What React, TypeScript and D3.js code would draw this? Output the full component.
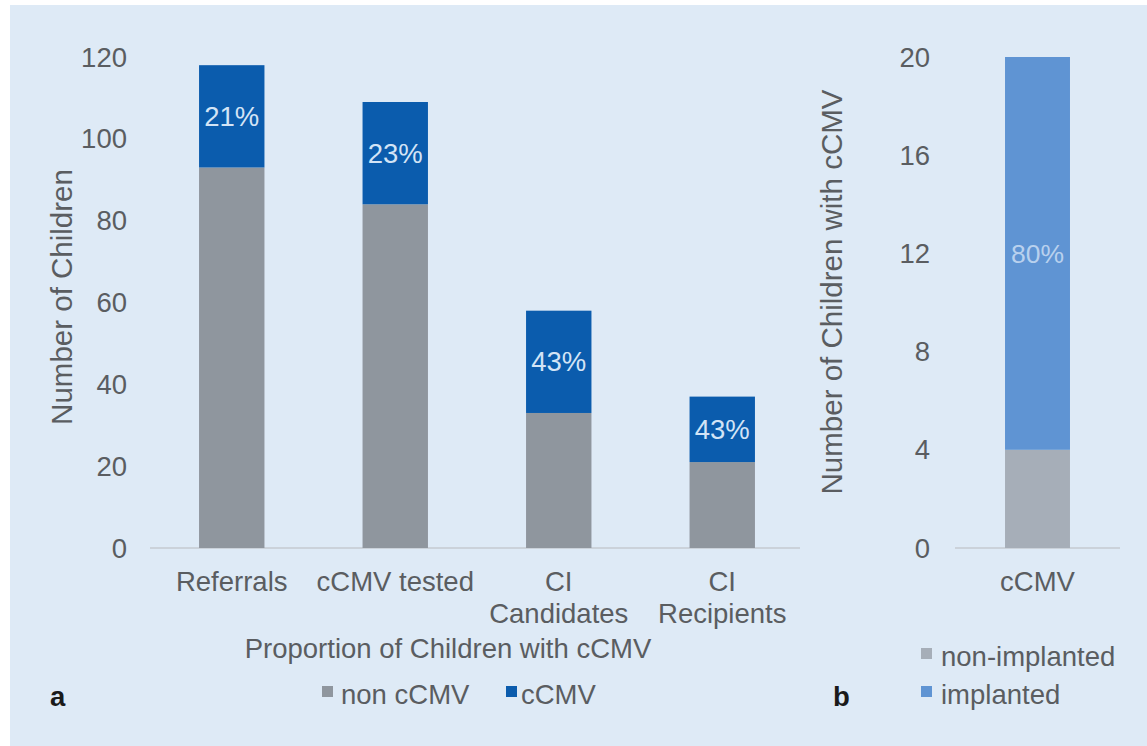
import React from "react";
import * as d3 from "d3";

const categories = ["Referrals", "cCMV tested", "CI Candidates", "CI Recipients"];
const categoryLines = [["Referrals"], ["cCMV tested"], ["CI", "Candidates"], ["CI", "Recipients"]];
const nonCCMV = [93, 84, 33, 21];
const cCMV = [25, 25, 25, 16];
const pctLabels = ["21%", "23%", "43%", "43%"];
const leftTicks = [0, 20, 40, 60, 80, 100, 120];

const rightCategories = ["cCMV"];
const nonImplanted = [4];
const implanted = [16];
const rightPct = ["80%"];
const rightTicks = [0, 4, 8, 12, 16, 20];

const W = 1147;
const H = 746;
const FONT = "'Liberation Sans', Arial, sans-serif";
const TXT = "#5a5d61";
const BG = "#deeaf6";

export default function App() {
  const yL = d3.scaleLinear().domain([0, 120]).range([548, 57]);
  const xL = d3.scaleBand<string>().domain(categories).range([150, 804]).paddingInner(0.6).paddingOuter(0.3);
  const yR = d3.scaleLinear().domain([0, 20]).range([548, 57]);
  const xR = d3.scaleBand<string>().domain(rightCategories).range([955, 1120]).paddingInner(0).paddingOuter(0.77);
  const fs = 27.5;
  const tfs = 29.5;

  return (
    <svg width={W} height={H} style={{ position: "absolute", left: 0, top: 0, display: "block" }} fontFamily={FONT}>
      <rect x={0} y={0} width={W} height={H} fill="#ffffff" />
      <rect x={10} y={5} width={W - 10} height={H - 5} fill={BG} />

      {/* Left chart */}
      {leftTicks.map((t) => (
        <text key={t} x={127} y={yL(t)} dy="0.35em" textAnchor="end" fontSize={fs} fill={TXT}>{t}</text>
      ))}
      <line x1={150} x2={800} y1={yL(0)} y2={yL(0)} stroke="#c4cad1" strokeWidth={1.5} />
      {categories.map((c, i) => {
        const x = xL(c)!;
        const bw = xL.bandwidth();
        return (
          <g key={c}>
            <rect x={x} y={yL(nonCCMV[i])} width={bw} height={yL(0) - yL(nonCCMV[i])} fill="#8f969e" />
            <rect x={x} y={yL(nonCCMV[i] + cCMV[i])} width={bw} height={yL(nonCCMV[i]) - yL(nonCCMV[i] + cCMV[i])} fill="#0b5cad" />
            <text x={x + bw / 2} y={yL(nonCCMV[i] + cCMV[i] / 2)} dy="0.35em" textAnchor="middle" fontSize={fs} fill="#d3e4f6">{pctLabels[i]}</text>
            {categoryLines[i].map((ln, j) => (
              <text key={j} x={x + bw / 2} y={591 + j * 32} textAnchor="middle" fontSize={fs} fill={TXT}>{ln}</text>
            ))}
          </g>
        );
      })}
      <text transform={`translate(72,297) rotate(-90)`} textAnchor="middle" fontSize={tfs} fill={TXT}>Number of Children</text>
      <text x={448} y={658} textAnchor="middle" fontSize={fs} fill={TXT}>Proportion of Children with cCMV</text>
      <rect x={322} y={686} width={11} height={11} fill="#8f969e" />
      <text x={341} y={704} fontSize={fs} fill={TXT}>non cCMV</text>
      <rect x={506} y={686} width={11} height={11} fill="#0b5cad" />
      <text x={521} y={704} fontSize={fs} fill={TXT}>cCMV</text>
      <text x={50} y={706} fontSize={fs} fontWeight="bold" fill="#1a1a1a">a</text>

      {/* Right chart */}
      {rightTicks.map((t) => (
        <text key={t} x={930} y={yR(t)} dy="0.35em" textAnchor="end" fontSize={fs} fill={TXT}>{t}</text>
      ))}
      <line x1={955} x2={1120} y1={yR(0)} y2={yR(0)} stroke="#c4cad1" strokeWidth={1.5} />
      {rightCategories.map((c, i) => {
        const x = xR(c)!;
        const bw = xR.bandwidth();
        return (
          <g key={c}>
            <rect x={x} y={yR(nonImplanted[i])} width={bw} height={yR(0) - yR(nonImplanted[i])} fill="#a6aeb8" />
            <rect x={x} y={yR(nonImplanted[i] + implanted[i])} width={bw} height={yR(nonImplanted[i]) - yR(nonImplanted[i] + implanted[i])} fill="#5f94d3" />
            <text x={x + bw / 2} y={yR(nonImplanted[i] + implanted[i] / 2)} dy="0.35em" textAnchor="middle" fontSize={fs - 1} fill="#b9d1ee">{rightPct[i]}</text>
            <text x={x + bw / 2} y={591} textAnchor="middle" fontSize={fs} fill={TXT}>{c}</text>
          </g>
        );
      })}
      <text transform={`translate(842,292) rotate(-90)`} textAnchor="middle" fontSize={tfs} fill={TXT}>Number of Children with cCMV</text>
      <rect x={921} y={648} width={11} height={11} fill="#a6aeb8" />
      <text x={941} y={666} fontSize={fs} fill={TXT}>non-implanted</text>
      <rect x={921} y={686} width={11} height={11} fill="#5f94d3" />
      <text x={941} y={704} fontSize={fs} fill={TXT}>implanted</text>
      <text x={833} y={706} fontSize={fs} fontWeight="bold" fill="#1a1a1a">b</text>
    </svg>
  );
}
